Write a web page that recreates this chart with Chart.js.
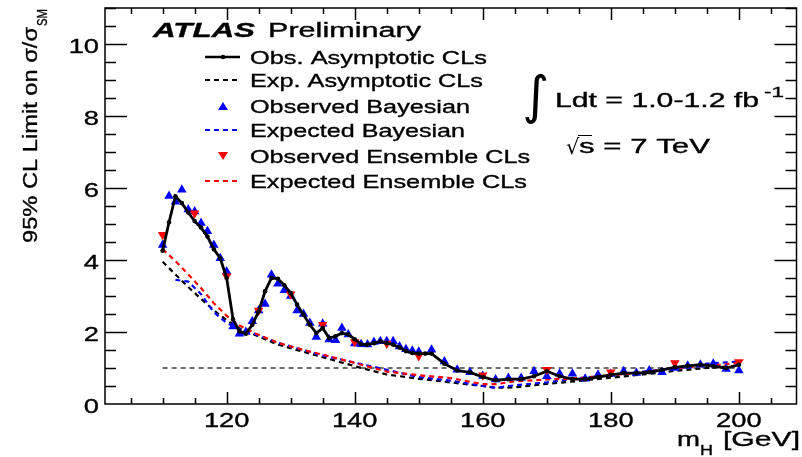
<!DOCTYPE html>
<html>
<head>
<meta charset="utf-8">
<script src="https://cdn.jsdelivr.net/npm/chart.js@4"></script>
<style>
  html, body { margin: 0; padding: 0; background: #fff; }
  #wrap { width: 802px; height: 457px; position: relative; }
</style>
</head>
<body>
<div id="wrap"><canvas id="limitChart"></canvas></div>
<script>
// masses (GeV) and limits
const massObs = [
  110, 111, 112, 113, 114, 115, 116, 117, 118, 119, 120, 121, 122, 123, 124,
  125, 126, 127, 128, 129, 130, 131, 132, 133, 134, 135, 136, 137, 138, 139,
  140, 141, 142, 143, 144, 145, 146, 147, 148, 149, 150, 151, 152,
  154, 156, 158, 160, 162, 164, 166, 168, 170, 172, 174, 176, 178, 180,
  182, 184, 186, 188, 190, 192, 194, 196, 198, 200,
];
const obsAsymptotic = [
  4.26, 5.05, 5.77, 5.58, 5.32, 5.08, 4.9, 4.65, 4.3, 4.05, 3.5, 2.35, 2.02, 1.95, 2.2,
  2.57, 3.13, 3.5, 3.48, 3.3, 3.08, 2.76, 2.48, 2.2, 1.97, 2.11, 1.83, 1.88, 1.97, 1.93,
  1.8, 1.66, 1.65, 1.69, 1.74, 1.69, 1.65, 1.57, 1.47, 1.42, 1.4, 1.4, 1.4,
  1.12, 0.93, 0.88, 0.75, 0.66, 0.69, 0.69, 0.77, 0.91, 0.77, 0.69, 0.69, 0.75, 0.81,
  0.86, 0.86, 0.88, 0.95, 1.02, 1.06, 1.09, 1.05, 1.0, 1.09,
];

const massExp = [
  110, 112, 114, 116, 118, 120, 122, 124, 126, 128, 130, 132, 135, 140,
  145, 150, 155, 160, 162, 165, 170, 175, 180, 185, 190, 195, 200,
];
const expAsymptotic = [
  3.95, 3.6, 3.25, 2.92, 2.6, 2.33, 2.1, 1.95, 1.8, 1.65, 1.55, 1.45, 1.3, 1.05,
  0.82, 0.7, 0.6, 0.5, 0.45, 0.46, 0.56, 0.64, 0.73, 0.82, 0.92, 1.0, 1.06,
];
const expEnsemble = [
  4.3, 3.97, 3.6, 3.22, 2.8, 2.45, 2.18, 2.0, 1.85, 1.7, 1.6, 1.5, 1.37, 1.14,
  0.9, 0.8, 0.72, 0.55, 0.55, 0.63, 0.68, 0.72, 0.8, 0.88, 1.0, 1.06, 1.14,
];

const massExpBayes = [
  112, 114, 116, 118, 120, 122, 124, 126, 128, 130, 132, 135, 140,
  145, 150, 155, 160, 162, 165, 170, 175, 180, 185, 190, 195, 200,
];
const expBayesian = [
  3.45, 3.4, 3.05, 2.55, 2.25, 2.08, 1.97, 1.84, 1.7, 1.6, 1.5, 1.35, 1.15,
  0.95, 0.75, 0.65, 0.5, 0.45, 0.52, 0.6, 0.72, 0.8, 0.9, 0.98, 1.12, 1.18,
];

const massBayes = [
  110, 111, 112, 113, 114, 115, 116, 117, 118, 119, 120, 121, 122, 123, 124,
  125, 126, 127, 128, 129, 130, 131, 132, 133, 134, 135, 136, 137, 138, 139,
  140, 141, 142, 143, 144, 145, 146, 147, 148, 149, 150,
  152, 154, 156, 158, 160, 162, 164, 166, 168, 170, 172, 174, 176, 178, 180,
  182, 184, 186, 188, 190, 192, 194, 196, 198, 200,
];
const obsBayesian = [
  4.42, 5.78, 5.62, 5.95, 5.4, 5.35, 5.03, 4.8, 4.42, 4.05, 3.68, 2.15, 1.95, 2.0, 2.3,
  2.6, 2.78, 3.59, 3.34, 3.16, 3.0, 2.6, 2.5, 2.25, 1.86, 2.23, 1.79, 1.77, 2.11, 1.93,
  1.68, 1.66, 1.65, 1.72, 1.74, 1.74, 1.74, 1.6, 1.52, 1.48, 1.45,
  1.51, 1.18, 0.95, 0.88, 0.78, 0.68, 0.72, 0.72, 0.91, 0.77, 0.84, 0.84, 0.7, 0.81, 0.83,
  0.91, 0.86, 0.93, 0.88, 1.0, 1.06, 1.09, 1.12, 0.97, 0.93,
];

const massEnsemble = [110, 115, 120, 125, 130, 135, 140, 145, 150, 160, 170, 180, 190, 200];
const obsEnsemble = [4.7, 5.3, 3.55, 2.6, 3.05, 2.2, 1.72, 1.68, 1.33, 0.8, 0.95, 0.88, 1.14, 1.17];

const smMass = [110, 200];
const smLine = [1, 1];

const xTickLabels = [120, 140, 160, 180, 200];
const yTickLabels = [0, 2, 4, 6, 8, 10];

const legendRows = [
  { label: "Obs. Asymptotic CLs", kind: "line", color: "#000", dash: [], dot: true },
  { label: "Exp. Asymptotic CLs", kind: "line", color: "#000", dash: [5, 4] },
  { label: "Observed Bayesian", kind: "up", color: "#0000ff" },
  { label: "Expected Bayesian", kind: "line", color: "#0000ff", dash: [5, 4] },
  { label: "Observed Ensemble CLs", kind: "down", color: "#ff0000" },
  { label: "Expected Ensemble CLs", kind: "line", color: "#ff0000", dash: [5, 4] },
];

const pts = (xs, ys) => xs.map((x, i) => ({ x: x, y: ys[i] }));

const SANS = "'Liberation Sans', Arial, Helvetica, sans-serif";

// text stretched horizontally so it covers the given width
function fitText(ctx, s, x, y, font, width, align) {
  ctx.font = font;
  const w = ctx.measureText(s).width;
  const sx = width ? width / w : 1.3;
  ctx.save();
  ctx.translate(x, y);
  ctx.scale(sx, 1);
  ctx.textAlign = align || "left";
  ctx.textBaseline = "alphabetic";
  ctx.fillText(s, 0, 0);
  ctx.lineWidth = 0.35;
  ctx.strokeStyle = ctx.fillStyle;
  ctx.strokeText(s, 0, 0);
  ctx.restore();
}

const framePlugin = {
  id: "rootFrame",
  afterDatasetsDraw(chart) {
    const { ctx, chartArea: a } = chart;
    const x = chart.scales.x, y = chart.scales.y;
    ctx.save();
    ctx.strokeStyle = "#000";
    ctx.fillStyle = "#000";
    ctx.lineWidth = 1.5;
    ctx.strokeRect(a.left, a.top, a.right - a.left, a.bottom - a.top);

    // x ticks, inside, bottom and top
    ctx.beginPath();
    for (let v = 105; v <= x.max; v += 5) {
      const px = Math.round(x.getPixelForValue(v)) + 0.5;
      const len = v % 20 === 0 ? 12 : 6;
      ctx.moveTo(px, a.bottom); ctx.lineTo(px, a.bottom - len);
      ctx.moveTo(px, a.top); ctx.lineTo(px, a.top + len);
    }
    // y ticks, inside, left and right
    for (let v = 0.5; v <= y.max; v += 0.5) {
      const py = Math.round(y.getPixelForValue(v)) + 0.5;
      const len = v % 2 === 0 ? 22 : 11;
      ctx.moveTo(a.left, py); ctx.lineTo(a.left + len, py);
      ctx.moveTo(a.right, py); ctx.lineTo(a.right - len, py);
    }
    ctx.stroke();

    // tick labels
    xTickLabels.forEach(v => {
      fitText(ctx, String(v), x.getPixelForValue(v), a.bottom + 23, "21px " + SANS, null, "center");
    });
    yTickLabels.forEach(v => {
      fitText(ctx, String(v), a.left - 6, y.getPixelForValue(v) + 9, "21px " + SANS, null, "right");
    });
    ctx.restore();
  },
  afterDraw(chart) {
    const { ctx } = chart;
    ctx.save();
    ctx.fillStyle = "#000";

    // axis titles
    fitText(ctx, "m", 677, 446, "21px " + SANS, 23);
    fitText(ctx, "H", 700, 455, "15px " + SANS, 13);
    fitText(ctx, "[GeV]", 723, 446, "21px " + SANS, 77);

    ctx.save();
    ctx.translate(37, 243);
    ctx.rotate(-Math.PI / 2);
    fitText(ctx, "95% CL Limit on \u03c3/\u03c3", 0, 0, "21px " + SANS, 216);
    fitText(ctx, "SM", 217, 10, "14px " + SANS, 17);
    ctx.restore();

    // ATLAS label
    fitText(ctx, "ATLAS", 153, 37, "italic bold 20px " + SANS, 102);
    fitText(ctx, "Preliminary", 268, 37, "20px " + SANS, 153);

    // legend
    const rowY = [57, 80, 106, 130, 156, 181];
    const textEnd = [487, 483, 470, 465, 530, 527];
    legendRows.forEach((r, i) => {
      const yy = rowY[i];
      ctx.save();
      ctx.strokeStyle = r.color;
      ctx.fillStyle = r.color;
      if (r.kind === "line") {
        ctx.lineWidth = r.dot ? 2.5 : 2;
        ctx.setLineDash(r.dash);
        ctx.beginPath();
        ctx.moveTo(205, yy); ctx.lineTo(240, yy);
        ctx.stroke();
        if (r.dot) {
          ctx.beginPath();
          ctx.arc(223, yy, 2.2, 0, Math.PI * 2);
          ctx.fill();
        }
      } else {
        const h = 4;
        const d = r.kind === "up" ? -1 : 1;
        ctx.beginPath();
        ctx.moveTo(223, yy + d * h);
        ctx.lineTo(218, yy - d * h);
        ctx.lineTo(228, yy - d * h);
        ctx.closePath();
        ctx.fill();
      }
      ctx.restore();
      fitText(ctx, r.label, 250, yy + 7, "19px " + SANS, textEnd[i] - 250);
    });

    // luminosity and energy
    ctx.font = "52px 'DejaVu Sans'";
    ctx.textAlign = "left";
    ctx.fillText("\u222b", 522, 113);
    fitText(ctx, "Ldt = 1.0-1.2 fb", 555, 107, "20px " + SANS, 204);
    fitText(ctx, "-1", 764, 97, "14px " + SANS, 20);
    ctx.font = "21px 'DejaVu Sans'";
    ctx.fillText("\u221a", 566, 154);
    ctx.lineWidth = 1;
    ctx.strokeStyle = "#000";
    ctx.beginPath();
    ctx.moveTo(578, 135.5); ctx.lineTo(592, 135.5);
    ctx.stroke();
    fitText(ctx, "s = 7 TeV", 579, 153, "20px " + SANS, 131);
    ctx.restore();
  },
};

new Chart(document.getElementById("limitChart"), {
  type: "line",
  data: {
    datasets: [
      {
        label: "SM",
        data: pts(smMass, smLine),
        borderColor: "#6e6e6e",
        borderWidth: 2,
        borderDash: [5, 4],
        pointRadius: 0,
        order: 9,
      },
      {
        label: "Exp. Asymptotic CLs",
        data: pts(massExp, expAsymptotic),
        borderColor: "#000",
        borderWidth: 2.2,
        borderDash: [5, 4],
        pointRadius: 0,
        order: 8,
      },
      {
        label: "Expected Bayesian",
        data: pts(massExpBayes, expBayesian),
        borderColor: "#0000ff",
        borderWidth: 2.2,
        borderDash: [5, 4],
        pointRadius: 0,
        order: 7,
      },
      {
        label: "Expected Ensemble CLs",
        data: pts(massExp, expEnsemble),
        borderColor: "#ff0000",
        borderWidth: 2.2,
        borderDash: [5, 4],
        pointRadius: 0,
        order: 6,
      },
      {
        label: "Observed Bayesian",
        data: pts(massBayes, obsBayesian),
        showLine: false,
        pointStyle: "triangle",
        pointRadius: 5.5,
        pointBackgroundColor: "#0000ff",
        pointBorderColor: "#0000ff",
        pointBorderWidth: 0,
        order: 5,
      },
      {
        label: "Observed Ensemble CLs",
        data: pts(massEnsemble, obsEnsemble),
        showLine: false,
        pointStyle: "triangle",
        rotation: 180,
        pointRadius: 5.5,
        pointBackgroundColor: "#ff0000",
        pointBorderColor: "#ff0000",
        pointBorderWidth: 0,
        order: 4,
      },
      {
        label: "Obs. Asymptotic CLs",
        data: pts(massObs, obsAsymptotic),
        borderColor: "#000",
        borderWidth: 2.8,
        pointRadius: 2.3,
        pointBackgroundColor: "#000",
        pointBorderWidth: 0,
        order: 1,
      },
    ],
  },
  options: {
    responsive: true,
    maintainAspectRatio: false,
    animation: false,
    layout: { padding: { left: 105, top: 8, right: 2, bottom: 53 } },
    plugins: { legend: { display: false }, tooltip: { enabled: false } },
    scales: {
      x: { type: "linear", min: 101, max: 209, display: false },
      y: { type: "linear", min: 0, max: 11, display: false },
    },
  },
  plugins: [framePlugin],
});
</script>
</body>
</html>
